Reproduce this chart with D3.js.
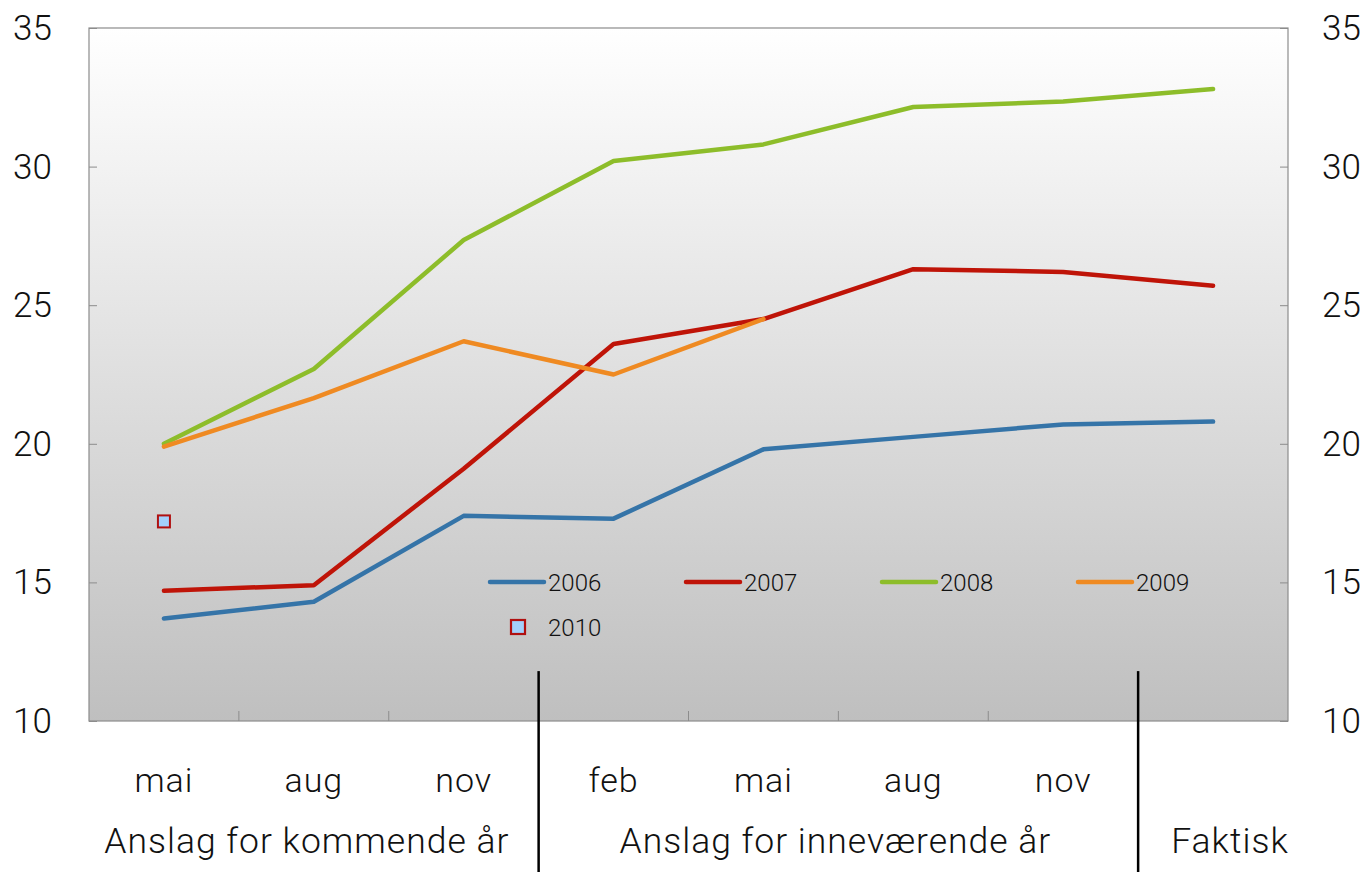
<!DOCTYPE html>
<html>
<head>
<meta charset="utf-8">
<script src="https://cdn.jsdelivr.net/npm/d3@7"></script>
<style>
  body { margin: 0; background: #fff; }
  svg text { font-family: Roboto, "Liberation Sans", sans-serif; font-weight: 300; fill: #111; }
</style>
</head>
<body>
<div id="chart"></div>
<script>
// Data
var months = ["mai", "aug", "nov", "feb", "mai", "aug", "nov", "Faktisk"];
var groups = ["Anslag for kommende år", "Anslag for inneværende år", "Faktisk"];
var s2006 = [13.7, 14.3, 17.4, 17.3, 19.8, 20.25, 20.7, 20.8];
var s2007 = [14.7, 14.9, 19.1, 23.6, 24.5, 26.3, 26.2, 25.7];
var s2008 = [20.0, 22.7, 27.35, 30.2, 30.8, 32.15, 32.35, 32.8];
var s2009 = [19.9, 21.65, 23.7, 22.5, 24.5, null, null, null];
var s2010 = [17.2, null, null, null, null, null, null, null];
var yTicks = [10, 15, 20, 25, 30, 35];

var series = [
  { name: "2006", values: s2006, color: "#3574a8" },
  { name: "2007", values: s2007, color: "#bf1408" },
  { name: "2008", values: s2008, color: "#8dbd2a" },
  { name: "2009", values: s2009, color: "#ef8a22" }
];

var svgWidth = 1368;
var svgHeight = 872;
var margin = { top: 28, right: 80, bottom: 151, left: 89 };
var width = 1288 - margin.left;
var height = 721 - margin.top;

var svg = d3.select("#chart")
  .append("svg")
  .attr("width", svgWidth)
  .attr("height", svgHeight);

var defs = svg.append("defs");
var grad = defs.append("linearGradient")
  .attr("id", "bg")
  .attr("x1", 0).attr("y1", 0).attr("x2", 0).attr("y2", 1);
grad.append("stop").attr("offset", "0%").attr("stop-color", "#ffffff");
grad.append("stop").attr("offset", "100%").attr("stop-color", "#bfbfbf");

var chartGroup = svg.append("g")
  .attr("transform", `translate(${margin.left}, ${margin.top})`);

// Scales
var xBand = d3.scaleBand()
  .domain(d3.range(months.length))
  .range([0, width]);

var yLinearScale = d3.scaleLinear()
  .domain([10, 35])
  .range([height, 0]);

function xc(i) { return xBand(i) + xBand.bandwidth() / 2; }

// Background
chartGroup.append("rect")
  .attr("width", width)
  .attr("height", height)
  .attr("fill", "url(#bg)")
  .attr("stroke", "#8c8c8c")
  .attr("stroke-width", 1.2);

// Y axis left and right (ticks inside)
var leftAxis = d3.axisRight(yLinearScale).tickValues(yTicks).tickSize(8).tickFormat("");
chartGroup.append("g").attr("class", "y axis")
  .call(leftAxis)
  .call(g => g.select(".domain").remove())
  .call(g => g.selectAll("line").attr("stroke", "#8c8c8c"));

var rightAxis = d3.axisLeft(yLinearScale).tickValues(yTicks).tickSize(8).tickFormat("");
chartGroup.append("g").attr("class", "y axis")
  .attr("transform", `translate(${width},0)`)
  .call(rightAxis)
  .call(g => g.select(".domain").remove())
  .call(g => g.selectAll("line").attr("stroke", "#8c8c8c"));

// Y tick labels
chartGroup.selectAll(".ylabL")
  .data(yTicks)
  .enter()
  .append("text")
  .attr("x", -76)
  .attr("y", d => yLinearScale(d))
  .attr("dy", "0.34em")
  .attr("font-size", 35)
  .text(d => d);

chartGroup.selectAll(".ylabR")
  .data(yTicks)
  .enter()
  .append("text")
  .attr("x", width + 34)
  .attr("y", d => yLinearScale(d))
  .attr("dy", "0.34em")
  .attr("font-size", 35)
  .text(d => d);

// X ticks (inside, at band boundaries)
var bounds = d3.range(1, months.length);
chartGroup.selectAll(".xtick")
  .data(bounds)
  .enter()
  .append("line")
  .attr("x1", d => xBand(d)).attr("x2", d => xBand(d))
  .attr("y1", height).attr("y2", height - 10)
  .attr("stroke", "#8c8c8c");

// Month labels
chartGroup.selectAll(".month")
  .data(months.slice(0, 7))
  .enter()
  .append("text")
  .attr("x", (d, i) => xc(i))
  .attr("y", height + 71)
  .attr("text-anchor", "middle")
  .attr("font-size", 34)
  .attr("letter-spacing", 1)
  .text(d => d);

// Group labels
var groupCenters = [
  (xBand(0) + xBand(3)) / 2 - 7,
  (xBand(3) + xBand(7)) / 2 - 3,
  width - 58
];
chartGroup.selectAll(".grp")
  .data(groups)
  .enter()
  .append("text")
  .attr("x", (d, i) => groupCenters[i])
  .attr("y", height + 132)
  .attr("text-anchor", "middle")
  .attr("font-size", 35.5)
  .attr("letter-spacing", 1)
  .text(d => d);

// Separators
[3, 7].forEach(function(b) {
  chartGroup.append("line")
    .attr("x1", xBand(b)).attr("x2", xBand(b))
    .attr("y1", yLinearScale(11.8)).attr("y2", svgHeight - margin.top)
    .attr("stroke", "#000")
    .attr("stroke-width", 2.5);
});

// Lines
var line = d3.line()
  .defined(d => d != null)
  .x((d, i) => xc(i))
  .y(d => yLinearScale(d));

series.forEach(function(s) {
  chartGroup.append("path")
    .datum(s.values)
    .attr("fill", "none")
    .attr("stroke", s.color)
    .attr("stroke-width", 4.5)
    .attr("stroke-linejoin", "round")
    .attr("stroke-linecap", "round")
    .attr("d", line);
});

// 2010 point
chartGroup.selectAll(".p2010")
  .data(s2010.map((v, i) => ({ v: v, i: i })).filter(d => d.v != null))
  .enter()
  .append("rect")
  .attr("x", d => xc(d.i) - 6)
  .attr("y", d => yLinearScale(d.v) - 6)
  .attr("width", 12)
  .attr("height", 12)
  .attr("fill", "#a3d0fb")
  .attr("stroke", "#b01010")
  .attr("stroke-width", 2);

// Legend
var legend = svg.append("g");
series.forEach(function(s, i) {
  var lx = 490 + i * 196;
  legend.append("line")
    .attr("x1", lx).attr("x2", lx + 54)
    .attr("y1", 582).attr("y2", 582)
    .attr("stroke", s.color)
    .attr("stroke-width", 4.5)
    .attr("stroke-linecap", "round");
  legend.append("text")
    .attr("x", lx + 58)
    .attr("y", 582)
    .attr("dy", "0.36em")
    .attr("font-size", 24)
    .attr("font-weight", 400)
    .text(s.name);
});
legend.append("rect")
  .attr("x", 511).attr("y", 620)
  .attr("width", 14).attr("height", 14)
  .attr("fill", "#a3d0fb")
  .attr("stroke", "#b01010")
  .attr("stroke-width", 2.2);
legend.append("text")
  .attr("x", 548)
  .attr("y", 627)
  .attr("dy", "0.36em")
  .attr("font-size", 24)
  .attr("font-weight", 400)
  .text("2010");
</script>
</body>
</html>
